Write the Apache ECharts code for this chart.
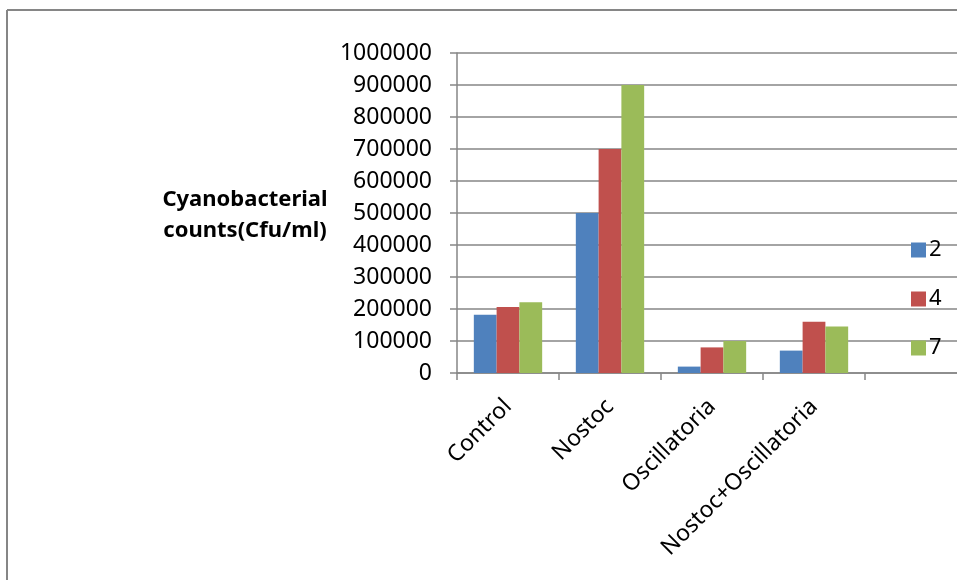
<!DOCTYPE html>
<html>
<head>
<meta charset="utf-8">
<script src="https://cdn.jsdelivr.net/npm/echarts@6/dist/echarts.min.js"></script>
<style>
  html, body { margin: 0; padding: 0; background: #fff; }
  #chart { width: 957px; height: 580px; }
</style>
</head>
<body>
<div id="chart"></div>
<script>
// Treatments (last slot left empty on the axis)
const categories = ['Control', 'Nostoc', 'Oscillatoria', 'Nostoc+Oscillatoria', ''];
// Counts per sampling day
const day2 = [182000, 500000, 20000, 70000, null];
const day4 = [206000, 700000, 80000, 160000, null];
const day7 = [221000, 900000, 100000, 145000, null];
const seriesNames = ['2', '4', '7'];
const colors = ['#4F81BD', '#C0504D', '#9BBB59'];

const FONT = '"Noto Sans", "Open Sans", sans-serif';
const grey = '#868686';

const chart = echarts.init(document.getElementById('chart'));
chart.setOption({
  animation: false,
  color: colors,
  title: {
    text: 'Cyanobacterial\ncounts(Cfu/ml)',
    left: 240,
    top: 179,
    textAlign: 'center',
    textStyle: { fontFamily: FONT, fontWeight: 'bold', fontSize: 22, lineHeight: 31, color: '#000' }
  },
  legend: {
    orient: 'vertical',
    left: 906,
    top: 234,
    itemWidth: 15,
    itemHeight: 15,
    itemGap: 27,
    icon: 'rect',
    textStyle: { fontFamily: FONT, fontSize: 22, color: '#000', padding: [0, 0, 0, -2] },
    data: seriesNames
  },
  grid: {
    left: 457, width: 510, top: 53, height: 320,
    containLabel: false,
    outerBoundsMode: 'none'
  },
  xAxis: {
    type: 'category',
    data: categories,
    axisLine: { lineStyle: { color: grey, width: 1.5 } },
    axisTick: { show: true, length: 7, lineStyle: { color: grey, width: 1.5 } },
    axisLabel: {
      rotate: 45,
      interval: 0,
      margin: 30,
      fontFamily: FONT,
      fontSize: 23,
      color: '#000'
    }
  },
  yAxis: {
    type: 'value',
    min: 0,
    max: 1000000,
    interval: 100000,
    axisLine: { show: true, lineStyle: { color: grey, width: 1.5 } },
    axisTick: { show: true, length: 7, lineStyle: { color: grey, width: 1.5 } },
    splitLine: { lineStyle: { color: grey, width: 1.5 } },
    axisLabel: {
      margin: 25,
      fontFamily: FONT,
      fontSize: 23,
      color: '#000',
      formatter: (v) => String(v)
    }
  },
  series: [
    { name: seriesNames[0], type: 'bar', data: day2, barGap: '0%', barCategoryGap: '33%' },
    { name: seriesNames[1], type: 'bar', data: day4, barGap: '0%', barCategoryGap: '33%' },
    { name: seriesNames[2], type: 'bar', data: day7, barGap: '0%', barCategoryGap: '33%' }
  ],
  graphic: [
    { type: 'line', shape: { x1: 7, y1: 10, x2: 957, y2: 10 }, style: { stroke: grey, lineWidth: 2 } },
    { type: 'line', shape: { x1: 7, y1: 10, x2: 7, y2: 580 }, style: { stroke: grey, lineWidth: 2 } }
  ]
});
</script>
</body>
</html>
